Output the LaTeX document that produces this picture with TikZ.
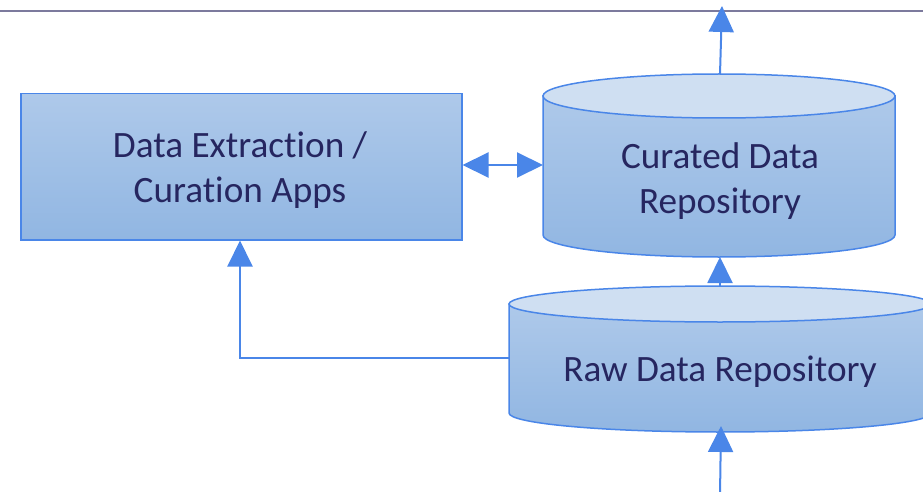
\documentclass[tikz,border=0pt]{standalone}
\usepackage{fontspec}
\setmainfont{Carlito}[Ligatures=NoCommon]
\usetikzlibrary{arrows.meta}

\definecolor{edgeblue}{RGB}{74,134,232}
\definecolor{filltop}{RGB}{174,201,234}
\definecolor{fillbot}{RGB}{145,182,226}
\definecolor{capfill}{RGB}{207,223,242}
\definecolor{inkblue}{RGB}{38,38,96}
\definecolor{rulegray}{RGB}{124,122,157}

\tikzset{
  box/.style={draw=edgeblue, line width=1.5pt, top color=filltop, bottom color=fillbot},
  capend/.style={draw=edgeblue, line width=1.5pt, fill=capfill},
  label/.style={text=inkblue, font=\fontsize{37.2}{45}\selectfont, align=center, inner sep=0pt},
  flow/.style={draw=edgeblue, line width=2pt, -{Triangle[length=26pt,width=25pt]}},
  flowboth/.style={draw=edgeblue, line width=2pt, {Triangle[length=26pt,width=25pt]}-{Triangle[length=26pt,width=25pt]}},
}

\begin{document}
\begin{tikzpicture}[x=1pt,y=1pt]
\useasboundingbox (0,0) rectangle (923,-492);
\clip (0,0) rectangle (923,-492);

% header rule
\draw[rulegray, line width=2pt] (0,-11) -- (923,-11);

% apps box
\node[box, minimum width=441pt, minimum height=146pt, inner sep=0pt, anchor=north west]
  (apps) at (20,-93) {};
\node[label] (appstext) at (240,-170) {Data Extraction /\\Curation Apps};

% curated repository cylinder
\path[box] (543,-96) -- (543,-235) arc[start angle=180, end angle=360, x radius=176pt, y radius=22pt]
  -- (895,-96) -- cycle;
\path[capend] (719,-96) ellipse[x radius=176pt, y radius=22pt];
\coordinate (curtop) at (720,-74);
\coordinate (curbot) at (720,-257);
\coordinate (curleft) at (543,-165);
\node[label] (curtext) at (720,-181) {Curated Data\\Repository};

% raw repository cylinder
\path[box] (509,-304) -- (509,-413) arc[start angle=180, end angle=360, x radius=211pt, y radius=19pt]
  -- (931,-304) -- cycle;
\path[capend] (720,-304) ellipse[x radius=211pt, y radius=18pt];
\coordinate (rawtop) at (720,-286);
\coordinate (rawbot) at (721,-426);
\coordinate (rawleft) at (509,-358);
\node[label, anchor=base] (rawtext) at (720,-381) {Raw Data Repository};

% connectors
\coordinate (outtop) at (722,-6);
\coordinate (inbot) at (720,-495);
\coordinate (bend) at (240,-358);
\draw[flow] (curtop) -- (outtop);
\draw[flow] (rawtop) -- (curbot);
\draw[flow] (inbot) -- (rawbot);
\draw[flow] (rawleft) -- (bend) -- (apps.south -| bend);
\draw[flowboth] (apps.east |- curleft) -- (curleft);
\end{tikzpicture}
\end{document}
